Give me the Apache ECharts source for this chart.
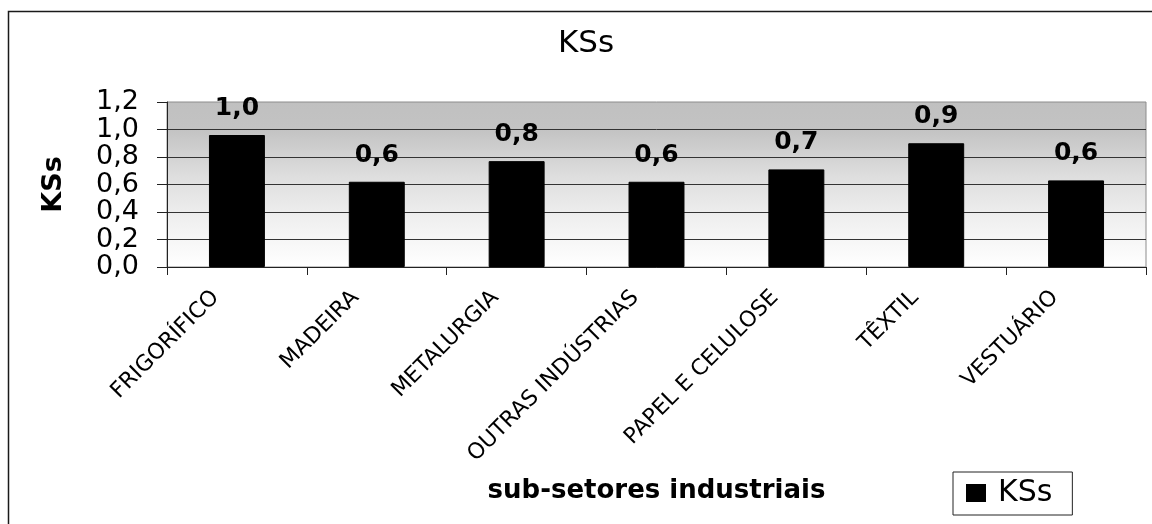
<!DOCTYPE html>
<html>
<head>
<meta charset="utf-8">
<script src="https://cdn.jsdelivr.net/npm/echarts@6/dist/echarts.min.js"></script>
<style>
html,body{margin:0;padding:0;background:#fff;}
#chart{width:1152px;height:524px;}
</style>
</head>
<body>
<div id="chart"></div>
<script>
const categories = ['FRIGORÍFICO', 'MADEIRA', 'METALURGIA', 'OUTRAS INDÚSTRIAS', 'PAPEL E CELULOSE', 'TÊXTIL', 'VESTUÁRIO'];
const ksValues = [0.96, 0.62, 0.77, 0.62, 0.71, 0.90, 0.63];
const seriesName = 'KSs';
const chartTitle = 'KSs';
const yAxisName = 'KSs';
const xAxisName = 'sub-setores industriais';

const FONT = 'DejaVu Sans';
const fmt = v => v.toFixed(1).replace('.', ',');

const chart = echarts.init(document.getElementById('chart'), null, {renderer: 'canvas'});
chart.setOption({
  animation: false,
  backgroundColor: '#ffffff',
  textStyle: {fontFamily: FONT, color: '#000'},
  title: {
    text: chartTitle,
    left: 558,
    top: 28,
    padding: 0,
    textStyle: {fontFamily: FONT, fontSize: 31, fontWeight: 'normal', color: '#000'}
  },
  graphic: [{
    type: 'rect',
    silent: true,
    shape: {x: 8.5, y: 11.5, width: 1300, height: 700},
    style: {fill: 'none', stroke: '#1a1a1a', lineWidth: 1.5},
    z: 100
  }],
  legend: {
    data: [seriesName],
    left: 953,
    top: 472,
    orient: 'horizontal',
    selectedMode: false,
    icon: 'rect',
    itemWidth: 18,
    itemHeight: 16,
    borderColor: '#222',
    borderWidth: 1,
    padding: [6, 20, 7, 13],
    textStyle: {fontFamily: FONT, fontSize: 30, color: '#000', padding: [0, 0, 0, 8]}
  },
  grid: {
    left: 167,
    right: 6,
    top: 102,
    bottom: 257,
    show: true,
    borderColor: '#8c8c8c',
    borderWidth: 1,
    backgroundColor: new echarts.graphic.LinearGradient(0, 0, 0, 1, [
      {offset: 0, color: '#c0c0c0'},
      {offset: 0.17, color: '#c3c3c3'},
      {offset: 0.45, color: '#dedede'},
      {offset: 0.7, color: '#efefef'},
      {offset: 1, color: '#ffffff'}
    ])
  },
  xAxis: {
    type: 'category',
    data: categories,
    name: xAxisName,
    nameLocation: 'middle',
    nameGap: 211,
    nameTextStyle: {fontFamily: FONT, fontSize: 26, fontWeight: 'bold', color: '#000'},
    axisLine: {lineStyle: {color: '#222', width: 1}},
    axisTick: {show: true, length: 8, lineStyle: {color: '#222'}},
    axisLabel: {
      interval: 0,
      rotate: 45,
      margin: 6,
      align: 'right',
      verticalAlign: 'middle',
      padding: [0, 30, 0, 0],
      fontFamily: FONT,
      fontSize: 22,
      color: '#000'
    }
  },
  yAxis: {
    type: 'value',
    min: 0,
    max: 1.2,
    interval: 0.2,
    name: yAxisName,
    nameLocation: 'middle',
    nameRotate: 90,
    nameGap: 100,
    nameTextStyle: {fontFamily: FONT, fontSize: 27, fontWeight: 'bold', color: '#000'},
    axisLine: {show: true, lineStyle: {color: '#222', width: 1}},
    axisTick: {show: true, length: 10, lineStyle: {color: '#222'}},
    axisLabel: {
      margin: 28,
      formatter: v => fmt(v),
      fontFamily: FONT,
      fontSize: 27,
      color: '#000'
    },
    splitLine: {show: true, showMaxLine: false, lineStyle: {color: '#333', width: 1}}
  },
  series: [{
    name: seriesName,
    type: 'bar',
    data: ksValues,
    barWidth: '40%',
    itemStyle: {color: '#000', borderColor: '#000', borderWidth: 1},
    label: {
      show: true,
      position: 'top',
      distance: 14,
      formatter: p => fmt(p.value),
      fontFamily: FONT,
      fontSize: 25,
      fontWeight: 'bold',
      color: '#000'
    }
  }]
});
</script>
</body>
</html>
